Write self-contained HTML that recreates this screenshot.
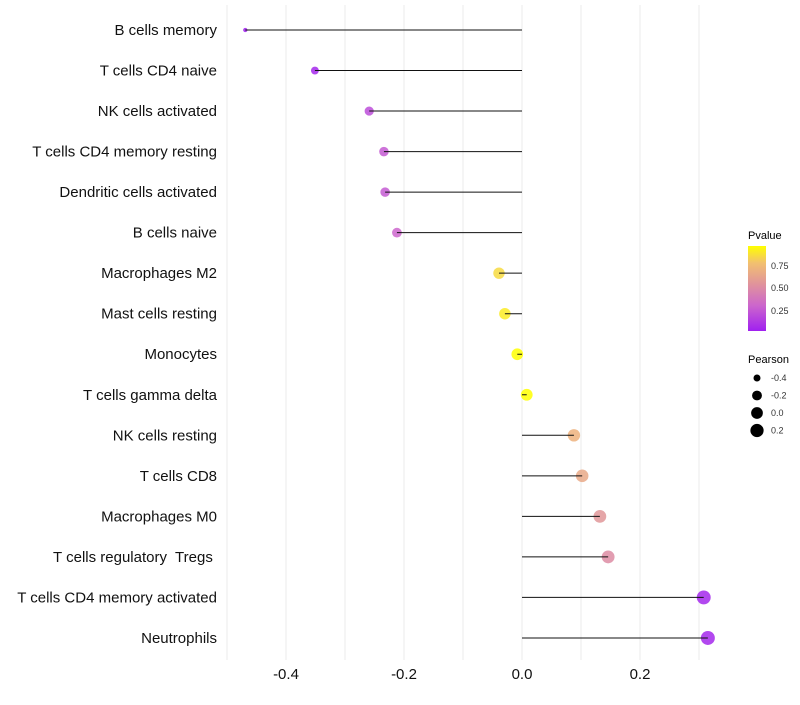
<!DOCTYPE html>
<html><head><meta charset="utf-8"><style>
body{margin:0;background:#fff;font-family:"Liberation Sans",sans-serif}
text{white-space:pre}
</style></head><body>
<svg id="c" width="800" height="700" xmlns="http://www.w3.org/2000/svg">
<defs><linearGradient id="g" x1="0" y1="1" x2="0" y2="0">
<stop offset="0" stop-color="#a020f0"/><stop offset="0.3" stop-color="#cc66cc"/><stop offset="0.55" stop-color="#e0939c"/><stop offset="0.8" stop-color="#f2c070"/><stop offset="1" stop-color="#ffff00"/></linearGradient></defs>
<g id="grid"></g><g id="marks"></g><g id="labels"></g>
<text x="748" y="239" font-size="11">Pvalue</text>
<rect x="748" y="246" width="18" height="85" fill="url(#g)"/>
<g font-size="9" fill="#333"><text x="771" y="269">0.75</text><text x="771" y="291">0.50</text><text x="771" y="314">0.25</text></g>
<text x="748" y="363" font-size="11">Pearson</text>
<g id="sizeleg"></g>
</svg>
<script>
const categories=["B cells memory","T cells CD4 naive","NK cells activated","T cells CD4 memory resting","Dendritic cells activated","B cells naive","Macrophages M2","Mast cells resting","Monocytes","T cells gamma delta","NK cells resting","T cells CD8","Macrophages M0","T cells regulatory  Tregs ","T cells CD4 memory activated","Neutrophils"];
const pearson=[-0.469,-0.351,-0.259,-0.234,-0.232,-0.212,-0.039,-0.029,-0.008,0.008,0.088,0.102,0.132,0.146,0.308,0.315];
const pvalue=[0.01,0.05,0.2,0.25,0.25,0.3,0.85,0.9,0.97,0.97,0.7,0.65,0.55,0.5,0.05,0.05];
const xTicks=[-0.4,-0.2,0.0,0.2];
const sizeLegend=[-0.4,-0.2,0.0,0.2];
const NS="http://www.w3.org/2000/svg";
const X=v=>522+v*590, Y=i=>30+i*40.53, R=v=>2+Math.sqrt(Math.max(0,(v+0.47)/0.785))*5;
const stops=[[0,[160,32,240]],[0.3,[204,102,204]],[0.55,[224,147,156]],[0.8,[242,192,112]],[1,[255,255,0]]];
function col(p){let t=Math.max(0,Math.min(1,(p-0.017)/0.943));for(let k=1;k<stops.length;k++){if(t<=stops[k][0]){const a=stops[k-1],b=stops[k],f=(t-a[0])/(b[0]-a[0]);return "rgb("+a[1].map((c,j)=>Math.round(c+(b[1][j]-c)*f)).join(",")+")";}}return "rgb(255,255,0)";}
function mk(t,attrs,parent){const e=document.createElementNS(NS,t);for(const k in attrs)e.setAttribute(k,attrs[k]);document.getElementById(parent).appendChild(e);return e;}
for(let v=-0.5;v<=0.35;v+=0.1){const l=mk("line",{x1:X(v),x2:X(v),y1:5,y2:660,stroke:"#ebebeb","stroke-width":1},"grid");

}
xTicks.forEach(v=>{const t=mk("text",{x:X(v),y:679,"text-anchor":"middle","font-size":15,fill:"#111"},"labels");t.textContent=v.toFixed(1);

});
categories.forEach((c,i)=>{const t=mk("text",{x:217,y:Y(i)+5,"text-anchor":"end","font-size":15,fill:"#111"},"labels");t.textContent=c;


const d=mk("circle",{cx:X(pearson[i]),cy:Y(i),r:R(pearson[i]),fill:col(pvalue[i]),"fill-opacity":0.85},"marks");


const l=mk("line",{x1:X(0),x2:X(pearson[i]),y1:Y(i),y2:Y(i),stroke:"#111","stroke-width":1},"marks");

});
sizeLegend.forEach((v,k)=>{const y=378+k*17.5;const c=mk("circle",{cx:757,cy:y,r:R(v),fill:"#000"},"sizeleg");


const t=mk("text",{x:771,y:y+3,"font-size":9,fill:"#333"},"sizeleg");t.textContent=v.toFixed(1);

});
</script>
</body></html>
